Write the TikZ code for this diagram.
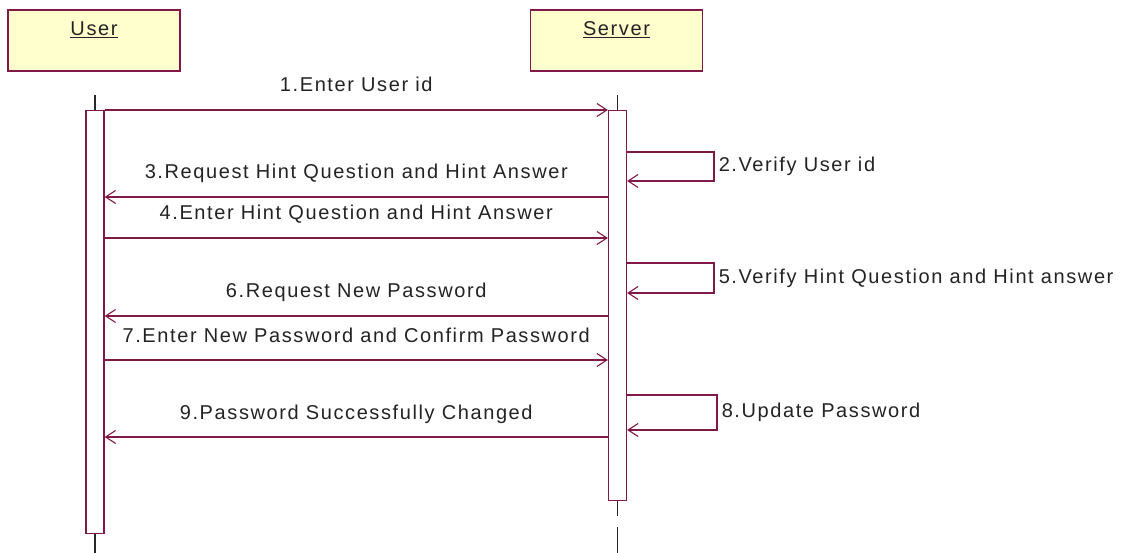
\documentclass[tikz,border=0pt]{standalone}
\usepackage{fontspec}
\setmainfont{Liberation Sans}[LetterSpace=8]
\usepackage{xcolor}
\usepackage{tikz}
\usetikzlibrary{arrows.meta}
\definecolor{seqline}{RGB}{128,24,72}
\definecolor{headfill}{RGB}{255,255,206}
\definecolor{seqtext}{RGB}{35,35,35}
\tikzset{
    head_box/.style = {rectangle, draw=seqline, fill=headfill, line width=1.3pt, minimum width=172pt, minimum height=61pt, inner sep=0pt},
    head_text/.style = {anchor=north, yshift=-12pt, inner sep=0pt, text=seqtext},
    act_box/.style = {rectangle, draw=seqline, fill=white, line width=1.2pt, minimum width=18pt, inner sep=0pt, anchor=north},
    life_line/.style = {draw=black!85, line width=1.2pt},
    msg/.style = {draw=seqline, line width=1.3pt, -{Straight Barb[length=10pt, width=13pt, line width=1.1pt]}},
    msg_label/.style = {anchor=base, yshift=18pt, inner sep=0pt, text=seqtext},
    self_label/.style = {anchor=west, inner sep=4pt, text=seqtext}
}

\begin{document}
\begin{tikzpicture}
            [x=1pt, y=-1pt, font=\fontsize{20}{24}\selectfont]

            \useasboundingbox (0,0) rectangle (1127,553);

            % objects
            \node [head_box, label={[head_text]north:\underline{User}}] (user_head) at (94,40.5) {};
            \node [head_box, label={[head_text]north:\underline{Server}}] (server_head) at (616.5,40.5) {};

            % activations
            \node [act_box, minimum height=423pt] (user_act) at (95,110) {};
            \node [act_box, minimum height=390pt] (server_act) at (617.5,110) {};

            % lifelines
            \draw [life_line] (user_act.north) -- ++(0,-15);
            \draw [life_line] (server_act.north) -- ++(0,-15);
            \draw [life_line] (user_act.south) -- (user_act.south |- 0,553);
            \draw [life_line] (server_act.south) -- ++(0,15);
            \draw [life_line] (server_act.south |- 0,527) -- (server_act.south |- 0,553);

            % messages
            \draw [msg] (user_act.east |- 0,110) -- node [msg_label] {1.Enter User id} (server_act.west |- 0,110);
            \draw [msg] (server_act.east |- 0,152) -- ++(87,0) -- node [self_label] {2.Verify User id} ++(0,29) -- (server_act.east |- 0,181);
            \draw [msg] (server_act.west |- 0,197) -- node [msg_label] {3.Request Hint Question and Hint Answer} (user_act.east |- 0,197);
            \draw [msg] (user_act.east |- 0,238) -- node [msg_label] {4.Enter Hint Question and Hint Answer} (server_act.west |- 0,238);
            \draw [msg] (server_act.east |- 0,263) -- ++(87,0) -- node [self_label] {5.Verify Hint Question and Hint answer} ++(0,30) -- (server_act.east |- 0,293);
            \draw [msg] (server_act.west |- 0,316) -- node [msg_label] {6.Request New Password} (user_act.east |- 0,316);
            \draw [msg] (user_act.east |- 0,360) -- node [msg_label] {7.Enter New Password and Confirm Password} (server_act.west |- 0,360);
            \draw [msg] (server_act.east |- 0,395) -- ++(90,0) -- node [self_label] {8.Update Password} ++(0,35) -- (server_act.east |- 0,430);
            \draw [msg] (server_act.west |- 0,437) -- node [msg_label] {9.Password Successfully Changed} (user_act.east |- 0,437);
\end{tikzpicture}
\end{document}
